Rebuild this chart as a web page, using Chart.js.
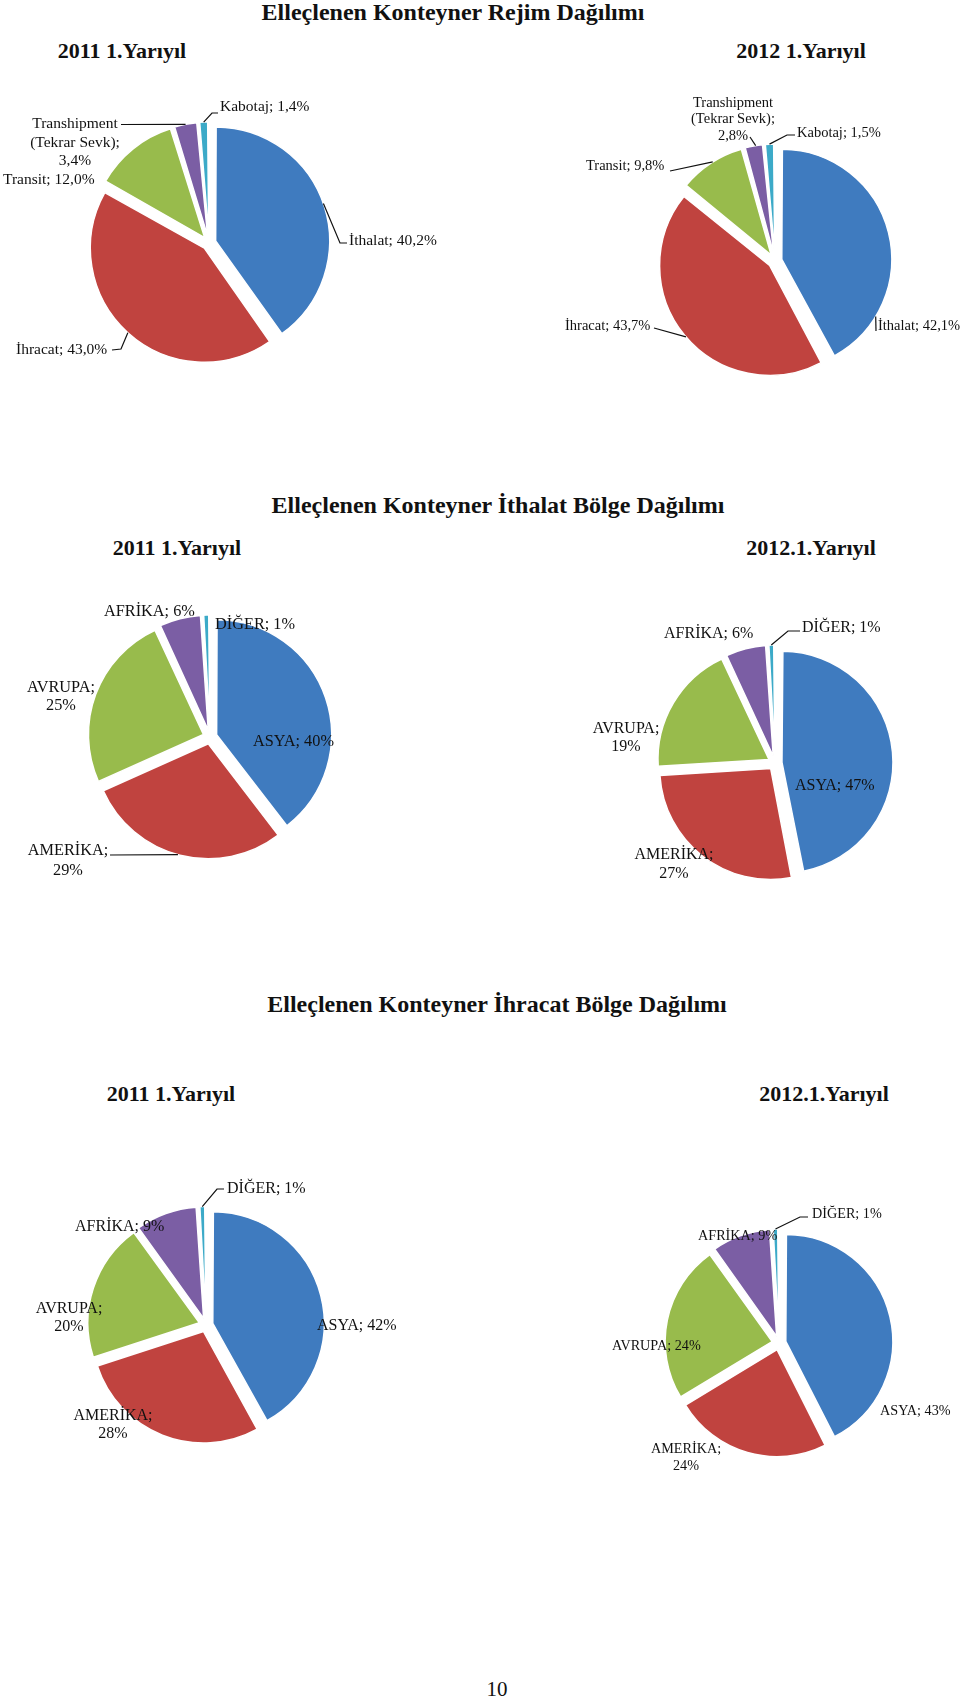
<!DOCTYPE html>
<html><head><meta charset="utf-8">
<script src="https://cdn.jsdelivr.net/npm/chart.js@4.4.1/dist/chart.umd.min.js"></script>
<style>
html,body{margin:0;padding:0;background:#fff;}
#page{position:relative;width:960px;height:1702px;overflow:hidden;background:#fff;font-family:"Liberation Serif","Times New Roman",serif;color:#111;}
.t{position:absolute;white-space:nowrap;line-height:1;text-align:center;width:600px;}
.b{font-weight:bold;}
.box{position:absolute;}
</style></head><body><div id="page"></div>
<script>
// ---------- DATA ----------
const sectionTitles = ['Elleçlenen Konteyner Rejim Dağılımı', 'Elleçlenen Konteyner İthalat Bölge Dağılımı', 'Elleçlenen Konteyner İhracat Bölge Dağılımı'];
const periodLabels = [['2011 1.Yarıyıl', '2012 1.Yarıyıl'], ['2011 1.Yarıyıl', '2012.1.Yarıyıl'], ['2011 1.Yarıyıl', '2012.1.Yarıyıl']];
const pageNumber = '10';

const regimeCategories = ['İthalat', 'İhracat', 'Transit', 'Transhipment (Tekrar Sevk)', 'Kabotaj'];
const regime2011 = [40.2, 43.0, 12.0, 3.4, 1.4];
const regime2012 = [42.1, 43.7, 9.8, 2.8, 1.5];

const regionCategories = ['ASYA', 'AMERİKA', 'AVRUPA', 'AFRİKA', 'DİĞER'];
const import2011 = [40, 29, 25, 6, 1];
const import2012 = [47, 27, 19, 6, 1];
const export2011 = [42, 28, 20, 9, 1];
const export2012 = [43, 24, 24, 9, 1];

const sliceColors = ['#3F7BBF', '#C0433F', '#98BB4C', '#7B5EA4', '#3CAAC8'];

// ---------- PAGE TEXT ----------
const page = document.getElementById('page');
function addText(txt, cx, top, size, bold) {
  const d = document.createElement('div');
  d.className = 't' + (bold ? ' b' : '');
  d.textContent = txt;
  d.style.left = (cx - 300) + 'px';
  d.style.top = top + 'px';
  d.style.fontSize = size + 'px';
  page.appendChild(d);
}
addText(sectionTitles[0], 453, 0, 24, true);
addText(periodLabels[0][0], 122, 40, 22, true);
addText(periodLabels[0][1], 801, 40, 22, true);
addText(sectionTitles[1], 498, 493, 24, true);
addText(periodLabels[1][0], 177, 537, 22, true);
addText(periodLabels[1][1], 811, 537, 22, true);
addText(sectionTitles[2], 497, 992, 24, true);
addText(periodLabels[2][0], 171, 1083, 22, true);
addText(periodLabels[2][1], 824, 1083, 22, true);
addText(pageNumber, 497, 1679, 21, false);

// ---------- LABEL FORMAT ----------
const fmtRegime = (c, v) => c + '; ' + v.toFixed(1).replace('.', ',') + '%';
const fmtRegion = (c, v) => c + '; ' + v + '%';
function splitLines(text, mode) {
  if (mode === 2) { const i = text.indexOf('; '); return [text.slice(0, i + 1), text.slice(i + 2)]; }
  if (mode === 3) { const i = text.indexOf('; '); const head = text.slice(0, i + 1); const j = head.indexOf(' ');
    return [head.slice(0, j), head.slice(j + 1), text.slice(i + 2)]; }
  return [text];
}

// ---------- PLUGIN: slice labels + leader lines ----------
const sliceLabels = {
  id: 'sliceLabels',
  beforeDatasetDraw(chart, args) {
    // keep every exploded slice at the same outer radius
    args.meta.data.forEach(arc => {
      const off = (arc.options.offset || 0) / 4;
      const fix = 1 - Math.sin(Math.min(Math.PI, arc.circumference || 0));
      arc._origR = arc.outerRadius;
      arc.outerRadius = arc.outerRadius - off * fix;
    });
  },
  afterDatasetDraw(chart, args) {
    args.meta.data.forEach(arc => { if (arc._origR !== undefined) arc.outerRadius = arc._origR; });
  },
  afterDraw(chart) {
    const cfg = chart.canvas._labelCfg;
    if (!cfg) return;
    const ctx = chart.ctx;
    const meta = chart.getDatasetMeta(0);
    const ds = chart.data.datasets[0];
    const ox = cfg.box.left, oy = cfg.box.top;
    ctx.save();
    ctx.font = cfg.size + 'px "Liberation Serif", "Times New Roman", serif';
    ctx.fillStyle = '#111';
    ctx.strokeStyle = '#111';
    ctx.lineWidth = 1.2;
    ctx.textBaseline = 'alphabetic';
    cfg.layout.forEach((L, i) => {
      const arc = meta.data[i];
      const text = cfg.format(chart.data.labels[i], ds.data[i]);
      const lines = splitLines(text, L.mode || 1);
      ctx.textAlign = L.align || 'left';
      lines.forEach((ln, k) => ctx.fillText(ln, L.x - ox, L.y - oy + k * (L.lh || cfg.size * 1.2)));
      if (L.leader) {
        const s = arc.startAngle, e = arc.endAngle;
        const mid = (s + e) / 2, a = s + L.leader.t * (e - s);
        const d = (arc.options.offset || 0) / 4;
        const r = arc.outerRadius;
        const px = arc.x + Math.cos(mid) * d + Math.cos(a) * r;
        const py = arc.y + Math.sin(mid) * d + Math.sin(a) * r;
        ctx.beginPath();
        ctx.moveTo(px, py);
        L.leader.via.forEach(q => ctx.lineTo(q[0] - ox, q[1] - oy));
        ctx.stroke();
      }
    });
    ctx.restore();
  }
};
Chart.register(sliceLabels);

// ---------- CHARTS ----------
function makePie(opts) {
  const box = document.createElement('div');
  box.className = 'box';
  box.style.left = opts.box.left + 'px';
  box.style.top = opts.box.top + 'px';
  const cv = document.createElement('canvas');
  cv.width = opts.box.width; cv.height = opts.box.height;
  cv.style.width = opts.box.width + 'px'; cv.style.height = opts.box.height + 'px';
  cv._labelCfg = { box: opts.box, size: opts.size, format: opts.format, layout: opts.layout };
  box.appendChild(cv);
  page.appendChild(box);
  const S = 40;
  const pcx = opts.cx - opts.box.left, pcy = opts.cy - opts.box.top;
  new Chart(cv, {
    type: 'pie',
    data: {
      labels: opts.labels,
      datasets: [{
        data: opts.values,
        backgroundColor: sliceColors,
        borderColor: '#ffffff',
        borderWidth: 1.5,
        offset: 28,
        radius: opts.r,
        clip: false
      }]
    },
    options: {
      responsive: false,
      maintainAspectRatio: false,
      animation: false,
      events: [],
      layout: { padding: { left: pcx - S, right: opts.box.width - pcx - S, top: pcy - S, bottom: opts.box.height - pcy - S } },
      plugins: {
        legend: { display: false },
        tooltip: { enabled: false }
      }
    }
  });
}

// Regime 2011
makePie({
  box: { left: 0, top: 80, width: 480, height: 330 }, cx: 209, cy: 243, r: 114, size: 15.5,
  labels: regimeCategories, values: regime2011, format: fmtRegime,
  layout: [
    { x: 349, y: 245, leader: { t: 0.49, via: [[340, 243], [347, 243]] } },
    { x: 16, y: 354, leader: { t: 0.5, via: [[121, 349], [112, 350]] } },
    { x: 3, y: 184 },
    { x: 75, y: 128, align: 'center', mode: 3, lh: 18.5, leader: { t: 0.5, via: [[121, 124.5]] } },
    { x: 220, y: 111, leader: { t: 0.5, via: [[212, 113], [218, 113]] } }
  ]
});
// Regime 2012
makePie({
  box: { left: 480, top: 80, width: 480, height: 330 }, cx: 775, cy: 261, r: 110, size: 14.5,
  labels: regimeCategories, values: regime2012, format: fmtRegime,
  layout: [
    { x: 878, y: 330, leader: { t: 0.8, via: [[876, 331]] } },
    { x: 565, y: 330, leader: { t: 0.494, via: [[654, 328]] } },
    { x: 586, y: 170, leader: { t: 0.53, via: [[670, 171]] } },
    { x: 733, y: 107, align: 'center', mode: 3, lh: 16.3, leader: { t: 0.6, via: [[750, 137]] } },
    { x: 797, y: 137, leader: { t: 0.5, via: [[787, 135], [795, 135]] } }
  ]
});
// Import 2011
makePie({
  box: { left: 0, top: 580, width: 480, height: 320 }, cx: 210, cy: 737, r: 115, size: 16.3,
  labels: regionCategories, values: import2011, format: fmtRegion,
  layout: [
    { x: 253, y: 746 },
    { x: 68, y: 855, align: 'center', mode: 2, lh: 20, leader: { t: 0.51, via: [[110, 855]] } },
    { x: 61, y: 692, align: 'center', mode: 2, lh: 18 },
    { x: 104, y: 616 },
    { x: 215, y: 629 }
  ]
});
// Import 2012
makePie({
  box: { left: 480, top: 580, width: 480, height: 320 }, cx: 775, cy: 763, r: 111, size: 16,
  labels: regionCategories, values: import2012, format: fmtRegion,
  layout: [
    { x: 795, y: 790 },
    { x: 674, y: 859, align: 'center', mode: 2, lh: 19 },
    { x: 626, y: 733, align: 'center', mode: 2, lh: 18 },
    { x: 664, y: 638 },
    { x: 802, y: 632, leader: { t: 0.5, via: [[788, 631], [800, 631]] } }
  ]
});
// Export 2011
makePie({
  box: { left: 0, top: 1160, width: 480, height: 320 }, cx: 206, cy: 1325, r: 111.5, size: 16,
  labels: regionCategories, values: export2011, format: fmtRegion,
  layout: [
    { x: 317, y: 1330 },
    { x: 113, y: 1420, align: 'center', mode: 2, lh: 18 },
    { x: 69, y: 1313, align: 'center', mode: 2, lh: 18 },
    { x: 75, y: 1231 },
    { x: 227, y: 1193, leader: { t: 0.5, via: [[217, 1189], [224, 1189]] } }
  ]
});
// Export 2012
makePie({
  box: { left: 480, top: 1160, width: 480, height: 340 }, cx: 779, cy: 1343, r: 107, size: 14.2,
  labels: regionCategories, values: export2012, format: fmtRegion,
  layout: [
    { x: 880, y: 1415 },
    { x: 686, y: 1453, align: 'center', mode: 2, lh: 17 },
    { x: 612, y: 1350 },
    { x: 698, y: 1240 },
    { x: 812, y: 1218, leader: { t: 0.5, via: [[800, 1217], [808, 1217]] } }
  ]
});
</script>
</body></html>
